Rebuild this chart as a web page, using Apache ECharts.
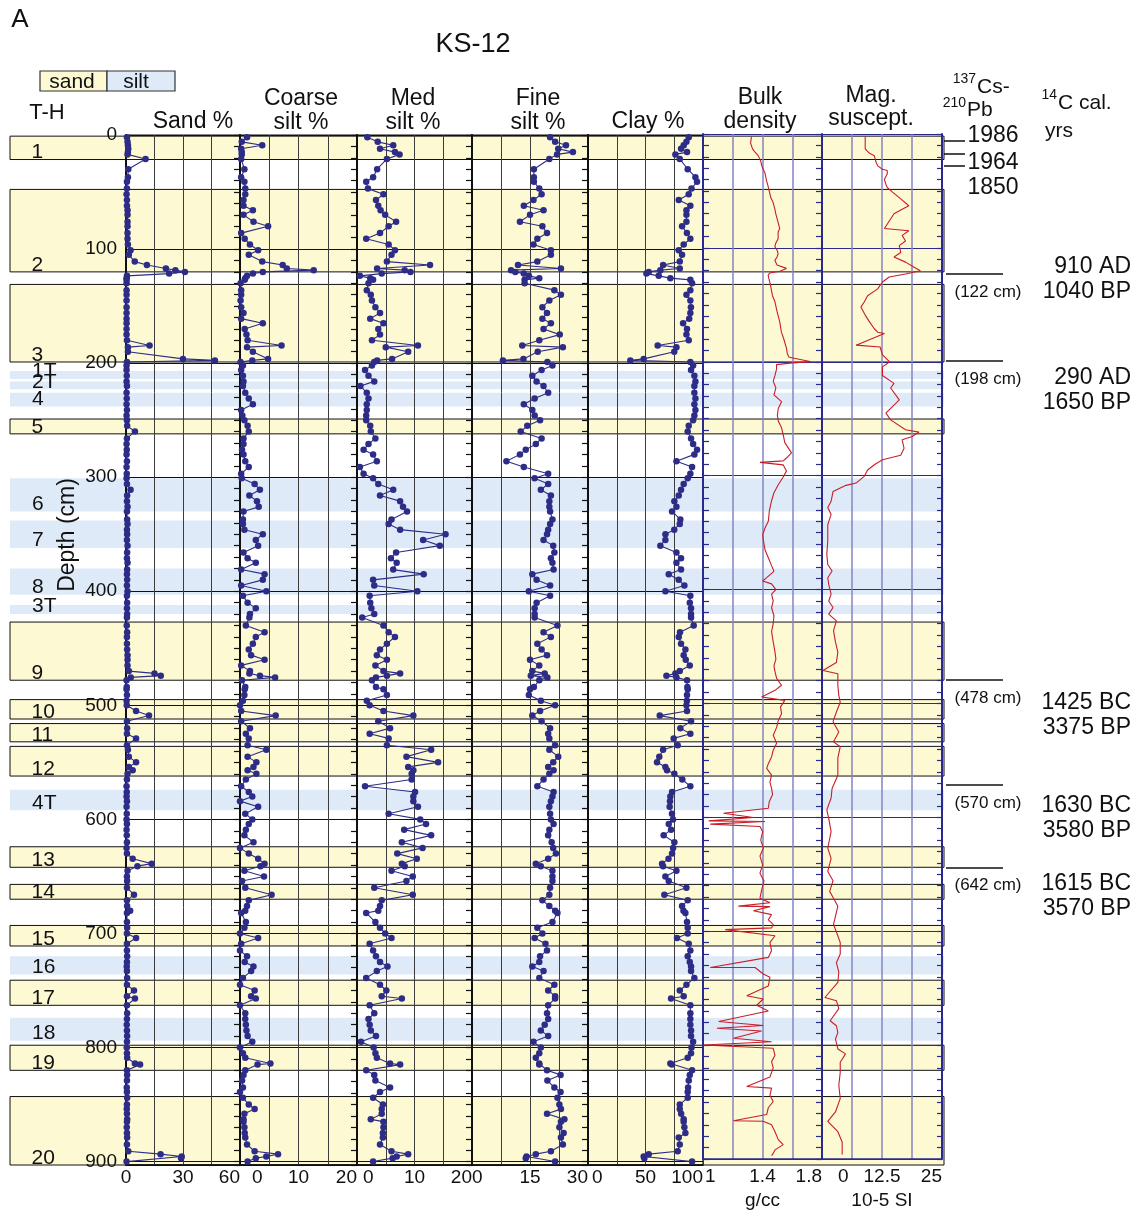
<!DOCTYPE html>
<html>
<head>
<meta charset="utf-8">
<title>KS-12</title>
<script src="https://cdn.jsdelivr.net/npm/echarts@6.0.0/dist/echarts.min.js"></script>
<style>
  html, body { margin: 0; padding: 0; background: #ffffff; }
  #chart { width: 1136px; height: 1211px; }
</style>
</head>
<body>
<div id="chart"></div>
<script>
// ---------------- Lithologic units (T-H), depths in cm ----------------
const unitNames  = ['1', '2', '3', '1T', '2T', '4', '5', '6', '7', '8', '3T', '9', '10', '11', '12', '4T', '13', '14', '15', '16', '17', '18', '19', '20'];
const unitTop    = [1, 47.7, 131, 207, 216, 226, 249, 301, 338, 380, 412, 427, 495, 516, 536, 574, 624, 657, 693, 720, 741, 774, 798, 843];
const unitBottom = [21.5, 120, 199, 214, 223, 238, 262, 330, 362, 403, 420, 478, 512, 532, 562, 592, 642, 670, 711, 736, 763, 794, 820, 903];
const unitType   = ['sand', 'sand', 'sand', 'silt', 'silt', 'silt', 'sand', 'silt', 'silt', 'silt', 'silt', 'sand', 'sand', 'sand', 'sand', 'silt', 'sand', 'sand', 'sand', 'silt', 'sand', 'silt', 'sand', 'sand'];

// ---------------- Grain-size samples ----------------
const sampleDepth = [
  2, 6, 9, 12, 15, 17, 21, 30, 37, 41, 47, 52, 57, 62, 66, 70, 76, 80, 86, 91,
  96, 101, 105, 111, 114, 117, 118.5, 120, 121.5, 123.5, 125.5, 127, 130, 136, 140, 145, 151, 156, 161, 165,
  170, 175, 180, 184.5, 186, 190, 196.3, 197.6, 199, 202,
  206, 211, 216, 220, 226, 231, 236, 241, 246, 250, 255, 260, 266, 271, 276, 280, 286, 291, 297, 301,
  306, 311, 316, 321, 326, 330, 337, 341, 346, 350, 355, 360, 366, 371, 375, 381, 385, 390, 395, 400,
  404, 410, 415, 420, 423, 430, 436,
  440, 446, 451, 456, 460, 465, 470, 472, 474, 475.5, 478, 484, 486, 491, 496, 500, 505, 509, 514, 520,
  525, 529, 535, 539, 545, 550, 554, 557, 560, 565, 571, 576, 580, 584, 589, 595, 600, 604, 609, 614,
  620, 625, 630, 634.5, 638.8, 641, 645, 650, 654, 660, 666, 671, 676, 680, 682, 690, 695, 700, 704, 709,
  715, 720, 725, 729, 733, 739, 745, 750, 755, 757, 763, 770, 775, 780, 785, 790, 795, 800, 805, 809,
  814, 815, 820, 824, 829, 835, 839, 844, 850, 854, 858, 863, 865, 870, 875, 879, 885, 891, 893.5, 895.5,
  897, 900
];
const sandPct = [
  0.5, 0.8, 1, 1.2, 1, 0.8, 10.3, 1.2, 1, 0.5, 0.5, 0.3, 0.5, 0.5, 0.8, 0.8, 0.8, 0.8, 0.8, 0.8,
  1, 2.4, 1.5, 4.6, 11, 21, 26, 31, 22.7, 0.5, 0.3, 0.3, 0.3, 0.3, 0.3, 0.3, 0.3, 0.3, 0.3, 0.3,
  0.3, 0.3, 0.5, 12.4, 1.0, 1.0, 30, 46.8, 0.5, 0.3,
  0.3, 0.4, 0.3, 0.5, 0.3, 0.4, 0.3, 0.5, 0.3, 0.5, 0.6, 4.7, 0.5, 0.3, 0.4, 0.3, 0.5, 0.3, 0.4, 0.3,
  0.5, 2.4, 0.6, 0.5, 0.8, 0.5, 0.6, 0.8, 0.5, 0.6, 0.5, 0.8, 0.6, 0.5, 0.8, 0.6, 0.5, 0.6, 0.5, 0.8,
  0.5, 0.6, 0.5, 0.6, 0.5, 0.4, 0.6,
  0.5, 0.5, 0.6, 0.8, 0.8, 0.8, 1.5, 15, 18.3, 2.5, 0.3, 0.4, 0.3, 0.5, 0.3, 0.4, 5.3, 12.1, 0.5, 0.6,
  0.5, 5.3, 0.5, 1.0, 1.5, 5.3, 1.5, 3.5, 0.8, 0.5, 0.3, 0.4, 0.3, 0.5, 0.3, 0.4, 0.3, 0.5, 0.3, 0.4,
  0.5, 0.3, 0.5, 3.5, 13.5, 6.0, 0.8, 0.5, 0.6, 0.5, 4.2, 0.5, 0.6, 2.2, 0.5, 0.5, 0.6, 0.5, 5.3, 0.5,
  0.5, 0.6, 0.5, 0.4, 0.5, 0.6, 0.5, 4.2, 0.5, 4.7, 0.5, 0.6, 0.5, 0.4, 0.5, 0.6, 0.5, 0.4, 0.5, 0.6,
  4.7, 7.4, 0.5, 0.6, 0.5, 0.4, 0.5, 0.6, 0.5, 0.4, 0.5, 0.6, 0.5, 0.4, 0.5, 0.6, 0.5, 1.2, 18.2, 29.3,
  29, 0.3
];
const coarseSiltPct = [
  1.2, 0.3, 3.8, 0.2, 0.3, 0.3, 0.2, 0.75, 0.2, 0.75, 0.9, 0.9, 0.6, 0.6, 2.2, 0.6, 2.3, 4.8, 0.2, 0.8,
  1.7, 3.1, 1.5, 3.8, 7.3, 8.0, 12.6, 3.9, 2.2, 1.2, 0.9, 0.8, 0.1, 0.2, 0.2, 0.1, 0.2, 0.6, 0.2, 3.9,
  0.8, 1.1, 1.3, 7.1, 1.2, 2.2, 4.8, 2.1, 0.1, 0.5,
  0.2, 0.5, 0.6, 0.5, 0.9, 1.5, 2.2, 0.2, 0.4, 0.75, 1.3, 1.5, 0.6, 0.6, 0.35, 0.6, 0.9, 1.5, 0.2, 0.3,
  2.5, 3.4, 1.6, 2.9, 3.2, 0.6, 0.5, 0.5, 0.75, 3.9, 2.7, 3.1, 0.6, 1.3, 2.7, 0.2, 4.2, 3.9, 0.2, 4.5,
  0.5, 1.3, 2.7, 1.7, 1.6, 1.0, 4.2,
  2.7, 2.2, 1.5, 1.9, 4.2, 0.2, 1.7, 1.6, 3.4, 6.0, 0.35, 0.9, 0.8, 0.75, 0.5, 0, 0.2, 6.1, 0.2, 1.7,
  1.0, 1.5, 1.3, 4.5, 1.3, 2.8, 2.3, 1.3, 2.8, 1.0, 0.2, 1.5, 2.1, 0, 3.1, 0.9, 2.1, 1.5, 1.0, 0.75,
  2.3, 0, 1.5, 3.1, 4.2, 3.5, 0.75, 4.1, 0.35, 0.9, 5.4, 1.5, 1.2, 0.9, 0.2, 1.0, 0.75, 0, 3.1, 0.2,
  0, 1.2, 0.8, 2.3, 1.9, 0.5, 0, 2.5, 1.9, 2.7, 0, 0.9, 0.9, 1.0, 1.1, 1.3, 2.1, 0, 0.5, 0.9,
  5.2, 3.0, 0.9, 0.6, 0.35, 0.5, 0, 0.5, 1.5, 2.5, 0.75, 0.6, 0.6, 0.75, 0.8, 0.9, 1.2, 2.5, 6.5, 4.5,
  2.7, 1.3
];
const medSiltPct = [
  1.8, 3.6, 6.3, 4.0, 6.6, 7.4, 5.2, 3.5, 2.8, 1.6, 1.9, 4.6, 3.3, 3.7, 4.1, 4.9, 6.8, 5.5, 4.0, 1.6,
  5.5, 6.6, 6.0, 5.2, 12.7, 3.5, 8.3, 9.3, 4.3, 0.5, 2.3, 2.8, 2.0, 1.7, 2.4, 2.6, 3.2, 4.0, 2.3, 4.6,
  3.7, 4.0, 2.6, 10.6, 5.0, 8.9, 6.1, 3.5, 3.0, 2.6,
  1.4, 2.0, 3.0, 0.6, 1.7, 2.0, 1.7, 1.7, 1.6, 1.6, 2.3, 2.4, 3.2, 2.0, 1.15, 2.8, 3.45, 0.5, 1.15, 2.8,
  3.7, 6.3, 4.0, 7.5, 8.0, 8.7, 6.0, 5.5, 7.5, 15.4, 11.5, 14.4, 6.8, 5.9, 6.9, 6.3, 11.6, 2.8, 3.0, 10.5,
  2.2, 2.3, 2.5, 3.0, 0.9, 4.6, 5.5,
  6.6, 5.2, 4.0, 3.45, 5.2, 3.2, 4.6, 7.5, 5.2, 3.3, 2.6, 3.3, 4.6, 5.2, 1.7, 2.2, 4.6, 9.8, 3.7, 5.75,
  2.2, 5.5, 5.2, 12.9, 8.6, 14.1, 8.9, 9.8, 9.5, 9.5, 1.4, 10.1, 9.8, 9.8, 10.6, 5.5, 11.0, 12.0, 8.2, 12.9,
  7.8, 11.4, 7.0, 10.4, 7.8, 8.3, 6.0, 9.7, 8.6, 3.0, 9.7, 4.3, 4.0, 3.7, 1.6, 3.2, 4.0, 4.9, 6.0, 2.2,
  2.8, 3.3, 4.0, 5.3, 3.45, 1.6, 4.0, 5.1, 4.3, 7.8, 2.2, 3.0, 2.0, 2.2, 2.4, 3.3, 0.7, 2.9, 3.2, 3.45,
  5.75, 7.5, 1.6, 3.0, 3.2, 5.75, 4.0, 2.8, 4.5, 4.3, 4.3, 2.4, 4.6, 4.6, 4.5, 4.5, 4.0, 6.0, 8.9, 6.9,
  6.2, 2.8
];
const fineSiltPct = [
  20.2, 21.5, 24.3, 22.3, 26.1, 22, 20, 16, 16, 16, 17.4, 18, 15.9, 13.4, 18.5, 15, 12.4, 18.2, 19.4, 16.9,
  15.9, 20.4, 20.4, 16.9, 11.9, 23, 10.1, 11.2, 13.4, 14.7, 17.4, 13.6, 13.6, 21.3, 23, 20, 18.2, 19.4, 18.2, 20.4,
  18.5, 22.7, 17.4, 13.0, 23.5, 17, 13.3, 8, 19.5, 20.8,
  18.0, 15.6, 16.7, 18.5, 19.7, 16.2, 13.4, 15.6, 16.2, 17.6, 14.3, 12.6, 18.0, 16.5, 13.9, 12.4, 8.9, 13.4, 19.7, 16.2,
  19.7, 17.8, 20.4, 20.0, 20.0, 20.2, 20.8, 20.2, 19.7, 19.4, 18.5, 21.0, 21.3, 20.4, 20.8, 21.1, 15.6, 16.7, 20.2, 14.7,
  20.2, 16.7, 16.2, 16.2, 16.2, 22.1, 18.5,
  20.4, 16.9, 18.0, 19.4, 15.0, 17.4, 15.6, 18.8, 15.2, 19.5, 17.4, 16.0, 15.0, 14.7, 17.8, 21.5, 17.6, 15.6, 18.0, 20.2,
  19.7, 20.0, 21.5, 20.0, 22.3, 21.0, 19.7, 21.1, 20.0, 18.5, 16.9, 21.1, 20.8, 20.4, 20.0, 20.2, 20.4, 21.1, 20.0, 19.7,
  20.6, 21.0, 21.7, 19.7, 16.5, 17.8, 20.8, 20.8, 20.8, 20.2, 20.0, 18.2, 20.0, 21.5, 22.1, 20.8, 16.9, 18.2, 16.2, 19.0,
  19.4, 17.6, 17.4, 15.6, 18.5, 17.4, 21.3, 19.7, 21.5, 21.5, 19.7, 19.4, 19.7, 18.8, 17.8, 19.7, 15.9, 17.8, 17.4, 16.5,
  17.4, 17.4, 19.4, 22.9, 19.5, 21.3, 22.9, 22.1, 22.6, 23.0, 19.4, 23.9, 23.0, 22.6, 23.7, 23.0, 23.5, 20.4, 16.5, 14.1,
  13.9, 21.5
];
const clayPct = [
  87.6, 85.6, 83.2, 80.9, 86.1, 76, 79.8, 86.7, 93.4, 94.8, 90, 87.6, 78.9, 89, 85.6, 85.6, 85.6, 81.8, 86, 89,
  83.2, 78.9, 81.8, 79.8, 65.3, 79.8, 62.9, 52.8, 50.8, 61.5, 71.6, 89, 90.5, 89, 85.6, 89, 89.5, 89, 88, 82.7,
  86.1, 85.6, 87.6, 60.6, 76.9, 75, 48.4, 36.8, 89, 91.4,
  89.6, 92.5, 93.4, 92.5, 92.5, 93.4, 92.5, 93.4, 92.5, 91.4, 87.6, 86.7, 89.6, 91.4, 94.8, 92.5, 76.9, 90.5, 89, 86.7,
  83.2, 80.9, 78.9, 75.1, 76.9, 73.1, 80.3, 79.8, 75, 67.3, 67.3, 62.9, 76.9, 80.9, 76.9, 80.9, 70.2, 78.9, 83.8, 67.3,
  89, 88.5, 89.6, 89.6, 89.6, 91.9, 80,
  78.9, 80.9, 84.7, 83.2, 85, 88.5, 79.8, 76, 68.2, 76.9, 86.1, 86.4, 86.7, 86.1, 86, 85.6, 86.1, 62.4, 89.6, 80.3,
  89, 74.5, 78, 65.3, 62, 60, 67.3, 68.7, 75.1, 82, 89, 73.1, 71.6, 71.3, 71, 73, 73.9, 70.2, 72.2, 65.8,
  75.1, 74, 73.1, 70, 64.4, 65.3, 76.9, 67.3, 70.2, 85.6, 66.4, 86.7, 81.8, 83, 84.7, 86.1, 86.7, 86.7, 77.4, 87.6,
  89, 86.7, 88.5, 89.6, 89.6, 92.5, 85.6, 79.8, 83.2, 72.2, 89, 89, 89, 89, 89.6, 89.6, 91.4, 90, 89.6, 86.7,
  71.6, 73, 90.5, 88.5, 87.6, 87, 86.7, 86.7, 79.8, 79.8, 81, 83.2, 83.2, 83.8, 84.7, 78.9, 79.8, 78, 52.8, 48.4,
  49, 90.5
];

// ---------------- Continuous logs ----------------
const bulkDepth = [
  2, 8, 13, 16, 19, 24, 27, 31, 34, 41, 46, 50, 56, 60, 66, 70, 83, 86, 92, 96,
  99, 102, 105, 108, 111, 115, 118, 120.5, 122, 124, 127, 133, 142, 147, 156, 165, 174, 180, 188, 193,
  196, 200, 201, 202.5,
  206, 212, 217, 223, 229, 235, 241, 247, 252, 258, 264, 271, 280, 284.5, 287, 288.3, 290.5, 296, 302, 308,
  315, 322, 331, 340, 346, 352, 357, 365, 372, 379, 384, 389.5, 392.5, 395, 400, 404, 410, 416, 423, 430,
  437, 446, 455, 461, 467, 472, 478, 484, 488.5, 494.4, 497.3, 503, 509, 515, 521, 528, 535, 541, 547, 553,
  557, 563, 569, 574.5, 580, 586, 592, 596.4, 600.2, 603.1, 603.7, 606, 608, 612.5, 620, 627, 634, 642, 649, 656,
  664, 671,
  675, 678, 678.4, 682, 685.4, 690, 694, 697.1, 698.6, 704, 710, 717, 723, 731.8, 731.9, 737.6, 740.5, 748, 756.6, 759.5,
  765, 770, 779.3, 782.8, 785.2, 787.6, 794, 797, 799.9, 802.8, 809, 814.5, 820, 828, 836.3, 837.8, 844, 849.5, 855, 861,
  866.4, 866.8, 870, 876, 883, 887.4, 892, 895, 897
];
const bulkDensity = [
  1.326, 1.32, 1.333, 1.35, 1.371, 1.389, 1.393, 1.404, 1.416, 1.427, 1.438, 1.445, 1.456, 1.471, 1.483, 1.489, 1.516, 1.505, 1.505, 1.489,
  1.483, 1.498, 1.505, 1.498, 1.483, 1.498, 1.561, 1.516, 1.449, 1.438, 1.443, 1.454, 1.467, 1.483, 1.498, 1.516, 1.527, 1.543, 1.561, 1.567,
  1.579, 1.728, 1.6, 1.494,
  1.495, 1.484, 1.472, 1.49, 1.477, 1.528, 1.506, 1.5, 1.506, 1.528, 1.539, 1.55, 1.595, 1.561, 1.539, 1.383, 1.539, 1.561, 1.535, 1.506,
  1.477, 1.461, 1.446, 1.439, 1.417, 1.401, 1.406, 1.417, 1.439, 1.461, 1.477, 1.428, 1.401, 1.461, 1.49, 1.461, 1.472, 1.461, 1.477, 1.472,
  1.461, 1.472, 1.484, 1.49, 1.477, 1.484, 1.495, 1.528, 1.484, 1.394, 1.55, 1.521, 1.528, 1.506, 1.495, 1.472, 1.495, 1.472, 1.461, 1.439,
  1.428, 1.461, 1.45, 1.461, 1.468, 1.446, 1.439, 1.138, 1.339, 1.038, 1.417, 1.049, 1.383, 1.401, 1.388, 1.406, 1.383, 1.401, 1.383, 1.41,
  1.394, 1.383,
  1.45, 1.238, 1.45, 1.339, 1.461, 1.439, 1.472, 1.461, 1.149, 1.484, 1.45, 1.461, 1.439, 1.049, 1.35, 1.405, 1.45, 1.439, 1.294, 1.405,
  1.361, 1.439, 1.105, 1.405, 1.094, 1.394, 1.205, 1.461, 1.004, 1.472, 1.484, 1.461, 1.472, 1.45, 1.294, 1.461, 1.45, 1.472, 1.439, 1.428,
  1.205, 1.405, 1.461, 1.484, 1.506, 1.539, 1.484, 1.472, 1.461
];
const magDepth = [
  2, 13, 17, 19, 24, 28, 31, 32, 35, 40, 44, 47, 51, 57, 63, 66, 70, 83, 85, 89,
  94, 98, 104, 108, 112.5, 117, 120, 123, 125.6, 130, 136, 142, 147.5, 152, 159, 165, 171, 174, 175.2, 185.4,
  187, 194, 200, 204.5,
  206, 212, 219, 223, 233.5, 238, 245, 251, 259.7, 261.8, 265.6, 268.5, 276, 282, 286, 290.4, 295, 300.6, 306.5, 308.5,
  313.8, 322.5, 328, 334, 343, 357.5, 369, 378, 383.7, 389.6, 395.4, 404, 410, 415.8, 421.6, 427.5, 436,
  446, 455, 464, 471, 474, 484, 493, 499, 507.5, 516, 525, 533.7, 538, 548, 563, 574.6, 583, 593.5, 601, 612.5,
  627, 636, 647.5, 655.6, 665, 671,
  678, 687, 694, 704, 710, 720, 727.6, 736, 745, 758.2, 761, 768, 778.6, 783, 789, 794.6, 803.4, 807.7, 815, 824,
  835, 847, 858.7, 866.9, 876, 885, 896
];
const magSus = [
  9.0, 9.0, 9.9, 10.9, 11.2, 11.6, 12.6, 13.6, 13.6, 13.0, 13.3, 13.6, 14.7, 16.4, 18.1, 16.7, 15.0, 13.0, 18.1, 16.7,
  17.4, 16.1, 16.4, 15.0, 17.4, 19.2, 20.5, 17.4, 14.0, 12.6, 11.6, 9.5, 8.8, 8.1, 9.0, 9.9, 10.9, 11.6, 13.0, 7.1,
  12.1, 12.6, 14.1, 12.6,
  12.3, 12.6, 15.0, 14.3, 16.1, 15.0, 13.3, 14.3, 17.4, 20.2, 18.8, 16.7, 17.1, 16.4, 12.6, 10.9, 9.5, 8.8, 7.1, 5.0,
  2.3, 1.9, 1.2, 1.9, 1.2, 1.2, 1.0, 1.2, 2.1, 1.2, 1.4, 1.9, 1.4, 2.3, 1.4, 3.0, 2.4,
  2.8, 3.3, 3.0, 0.2, 3.3, 3.3, 3.5, 3.8, 3.0, 2.3, 3.5, 2.4, 3.8, 3.3, 3.3, 2.1, 1.9, 1.0, 1.4, 1.9,
  1.2, 1.9, 1.2, 2.3, 1.6, 2.4,
  3.3, 2.8, 2.4, 3.3, 3.8, 3.8, 3.0, 3.5, 3.3, 0.6, 3.0, 3.5, 1.7, 3.0, 3.3, 2.8, 3.3, 4.9, 3.8, 3.8,
  3.5, 3.8, 2.8, 1.2, 3.3, 4.2, 4.2
];

// ---------------- Axis tick labels ----------------
const sandTicks = [0, 30, 60];
const coarseTicks = [0, 10, 20];
const medTicks = [0, 10, 20];
const fineTicks = [0, 15, 30];
const clayTicks = [0, 50, 100];
const bulkTicks = [1, 1.4, 1.8];
const magTicks = [0, 12.5, 25];

// ---------------- Age control ----------------
const csPbYears = ['1986', '1964', '1850'];
const csPbLabelDepth = [1, 24, 46];
const csPbMarkDepth = [5, 16, 27];
const c14Depth = [122, 198, 478, 570, 642];
const c14Cal = ['910 AD', '290 AD', '1425 BC', '1630 BC', '1615 BC'];
const c14BP = ['1040 BP', '1650 BP', '3375 BP', '3580 BP', '3570 BP'];

// ---------------- Styling / layout ----------------
const FONT = '"Liberation Sans", Arial, Helvetica, sans-serif';
const INK = '#111111';
const GRID_INK = '#3c3c3c';
const NAVY = '#2a2a8e';
const NAVY_LIGHT = '#8484c2';
const DOT = '#2d2d87';
const RED = '#c81e28';
const SAND_FILL = '#fdf9d3';
const SILT_FILL = '#dfeaf9';
const FRONT = 1;   // canvas layer for panels, axes and texts (unit bands sit below)

const TOP = 135, HEIGHT = 1030, DEPTH_MAX = 903;
const LOG_TOP = 134, LOG_HEIGHT = 1025, LOG_DEPTH_MAX = 900;

// Bottom-axis labels: only the listed values are written; the first one can be nudged right
function tickLabel(list, min, lead) {
  return {
    formatter: v => {
      const hit = list.find(t => Math.abs(t - v) < 1e-6);
      if (hit === undefined) return '';
      return Math.abs(v - min) < 1e-6 ? '{lead|' + hit + '}' : String(hit);
    },
    rich: { lead: { padding: [0, 0, 0, lead], fontSize: 19, fontFamily: FONT, color: INK } }
  };
}

const chart = echarts.init(document.getElementById('chart'));
const grids = [], xAxes = [], yAxes = [], series = [];

// every grid keeps exactly the box it is given
function addGrid(g) { grids.push(Object.assign({ zlevel: FRONT, outerBoundsMode: 'none', containLabel: false }, g)); return grids.length - 1; }
function addX(a) { return xAxes.push(Object.assign({ zlevel: FRONT }, a)) - 1; }
function addY(a) { return yAxes.push(Object.assign({ zlevel: FRONT }, a)) - 1; }

// Background: lithologic unit bands spanning every panel
(function () {
  const gi = addGrid({ left: 10, top: TOP, width: 934, height: HEIGHT, show: false });
  const xi = addX({ gridIndex: gi, type: 'value', min: 0, max: 1, show: false });
  const yi = addY({ gridIndex: gi, type: 'value', min: 0, max: DEPTH_MAX, inverse: true, show: false });
  series.push({
    type: 'line', xAxisIndex: xi, yAxisIndex: yi, zlevel: 0, silent: true,
    data: [[0, 0]], showSymbol: false, lineStyle: { opacity: 0 },
    markArea: {
      silent: true,
      data: unitNames.map((n, i) => [
        {
          name: n, xAxis: 0, yAxis: unitTop[i],
          itemStyle: unitType[i] === 'sand'
            ? { color: SAND_FILL, borderColor: INK, borderWidth: 1 }
            : { color: SILT_FILL, borderWidth: 0 },
          label: {
            show: true, position: 'insideBottomLeft', distance: 5, offset: [17, 8],
            color: INK, fontSize: 21, fontFamily: FONT
          }
        },
        { xAxis: 1, yAxis: unitBottom[i] }
      ])
    }
  });
})();

// Grain-size panels
const grainPanels = [
  { left: 126, width: 114, max: 60,  step: 15,  ticks: sandTicks,   values: sandPct,       minAlign: 'center', lead: 0 },
  { left: 240, width: 117, max: 20,  step: 5,   ticks: coarseTicks, values: coarseSiltPct, minAlign: 'left',   lead: 12 },
  { left: 357, width: 115, max: 20,  step: 5,   ticks: medTicks,    values: medSiltPct,    minAlign: 'left',   lead: 6 },
  { left: 472, width: 116, max: 30,  step: 7.5, ticks: fineTicks,   values: fineSiltPct,   minAlign: 'left',   lead: 0 },
  { left: 588, width: 115, max: 100, step: 25,  ticks: clayTicks,   values: clayPct,       minAlign: 'left',   lead: 4 }
];

grainPanels.forEach((p, k) => {
  const gi = addGrid({ left: p.left, top: TOP, width: p.width, height: HEIGHT, show: true, borderColor: INK, borderWidth: 1.2 });
  const xi = addX({
    gridIndex: gi, type: 'value', min: 0, max: p.max, interval: p.step, position: 'bottom',
    axisLine: { show: true, onZero: false, lineStyle: { color: INK, width: 1.5 } },
    axisTick: { show: false },
    axisLabel: Object.assign({
      fontSize: 19, fontFamily: FONT, color: INK, margin: 3,
      alignMinLabel: p.minAlign, alignMaxLabel: 'right'
    }, tickLabel(p.ticks, 0, p.lead)),
    splitLine: { show: true, lineStyle: { color: GRID_INK, width: 1 } }
  });
  const yi = addY({
    gridIndex: gi, type: 'value', min: 0, max: DEPTH_MAX, interval: 100, inverse: true,
    axisLine: { show: true, onZero: false, lineStyle: { color: INK, width: 2 } },
    axisTick: { show: k > 0, length: 6, lineStyle: { color: INK, width: 1.2 } },
    minorTick: { show: k > 0, splitNumber: 10, length: 6, lineStyle: { color: INK, width: 1.2 } },
    axisLabel: k === 0
      ? { show: true, formatter: v => (v % 100 === 0 ? String(v) : ''), fontSize: 19, fontFamily: FONT, color: INK, margin: 9, padding: [0, 0, 8, 0] }
      : { show: false },
    splitLine: { show: true, lineStyle: { color: INK, width: 1 } }
  });
  series.push({
    type: 'line', xAxisIndex: xi, yAxisIndex: yi, zlevel: FRONT, z: 3, silent: true,
    data: sampleDepth.map((d, i) => [p.values[i], d]),
    symbol: 'circle', symbolSize: 6.5, showSymbol: true,
    itemStyle: { color: DOT },
    lineStyle: { color: DOT, width: 1.1 }
  });
});

// Log panels (bulk density, magnetic susceptibility)
function logPanel(left, width, min, max, step, ticks, lead, name, depth, values, rightAxis) {
  const gi = addGrid({ left, top: LOG_TOP, width, height: LOG_HEIGHT, show: false });
  const xi = addX({
    gridIndex: gi, type: 'value', min, max, interval: step, position: 'bottom',
    axisLine: { show: true, onZero: false, lineStyle: { color: NAVY, width: 1.5 } },
    axisTick: { show: false },
    axisLabel: Object.assign({
      fontSize: 19, fontFamily: FONT, color: INK, margin: 8,
      alignMinLabel: 'left', alignMaxLabel: 'right'
    }, tickLabel(ticks, min, lead)),
    splitLine: { show: true, lineStyle: { color: NAVY_LIGHT, width: 1.5 } },
    name, nameLocation: 'middle', nameGap: 31,
    nameTextStyle: { fontSize: 19, fontFamily: FONT, color: INK }
  });
  const yi = addY({
    gridIndex: gi, type: 'value', min: 0, max: LOG_DEPTH_MAX, interval: 100, inverse: true, position: 'left',
    axisLine: { show: true, onZero: false, lineStyle: { color: NAVY, width: 2 } },
    axisTick: { show: true, inside: !rightAxis, length: 6, lineStyle: { color: NAVY, width: 1.2 } },
    minorTick: { show: true, splitNumber: 10, length: 6, lineStyle: { color: NAVY, width: 1.2 } },
    axisLabel: { show: false },
    splitLine: { show: true, lineStyle: { color: NAVY, width: 1.2 } }
  });
  if (rightAxis) {
    addY({
      gridIndex: gi, type: 'value', min: 0, max: LOG_DEPTH_MAX, interval: 100, inverse: true, position: 'right',
      axisLine: { show: true, onZero: false, lineStyle: { color: NAVY, width: 2 } },
      axisTick: { show: true, inside: true, length: 5, lineStyle: { color: NAVY, width: 1.2 } },
      minorTick: { show: true, splitNumber: 10, length: 5, lineStyle: { color: NAVY, width: 1.2 } },
      axisLabel: { show: false },
      splitLine: { show: false }
    });
  }
  series.push({
    type: 'line', xAxisIndex: xi, yAxisIndex: yi, zlevel: FRONT, z: 3, silent: true,
    data: depth.map((d, i) => [values[i], d]),
    showSymbol: false, lineStyle: { color: RED, width: 1.1 }
  });
}
logPanel(703, 119, 1, 1.8, 0.2, bulkTicks, 2, 'g/cc', bulkDepth, bulkDensity, false);
logPanel(822, 120, 0, 25, 6.25, magTicks, 16, '10-5 SI', magDepth, magSus, true);

// Age-control tie lines
function tieLines(left, width, depths) {
  const gi = addGrid({ left, top: TOP, width, height: HEIGHT, show: false });
  const xi = addX({ gridIndex: gi, type: 'value', min: 0, max: 1, show: false });
  const yi = addY({ gridIndex: gi, type: 'value', min: 0, max: DEPTH_MAX, inverse: true, show: false });
  series.push({
    type: 'line', xAxisIndex: xi, yAxisIndex: yi, zlevel: FRONT, silent: true,
    data: [[0, 0]], showSymbol: false, lineStyle: { opacity: 0 },
    markLine: {
      silent: true, symbol: ['none', 'none'], animation: false,
      label: { show: false },
      lineStyle: { color: INK, width: 1.5, type: 'solid' },
      data: depths.map(d => ({ yAxis: d }))
    }
  });
  return gi;
}
const c14Grid = tieLines(946, 57, c14Depth);
tieLines(944, 21, csPbMarkDepth);

chart.setOption({
  animation: false,
  backgroundColor: '#ffffff',
  grid: grids,
  xAxis: xAxes,
  yAxis: yAxes,
  series
});

// ---------------- Text annotations ----------------
function txt(text, x, y, size, align, extra) {
  return Object.assign({
    type: 'text', x, y, silent: true, zlevel: FRONT, z: 10,
    style: { text, fontSize: size, fontFamily: FONT, fill: INK, align: align || 'center', verticalAlign: 'middle' }
  }, extra || {});
}
const yAt = d => chart.convertToPixel({ gridIndex: c14Grid }, [0, d])[1];

const graphics = [
  txt('A', 20, 20, 26),
  txt('KS-12', 473, 45, 27),
  // legend
  { type: 'rect', silent: true, zlevel: FRONT, shape: { x: 40, y: 71, width: 67, height: 20 }, style: { fill: SAND_FILL, stroke: '#333', lineWidth: 1.2 } },
  { type: 'rect', silent: true, zlevel: FRONT, shape: { x: 107, y: 71, width: 68, height: 20 }, style: { fill: SILT_FILL, stroke: '#333', lineWidth: 1.2 } },
  txt('sand', 72, 82, 21),
  txt('silt', 136, 82, 21),
  txt('T-H', 47, 113, 22),
  txt('Depth (cm)', 68, 535, 23, 'center', { rotation: Math.PI / 2 }),
  // panel titles
  txt('Sand %', 193, 122, 23),
  txt('Coarse', 301, 99, 23), txt('silt %', 301, 123, 23),
  txt('Med', 413, 99, 23), txt('silt %', 413, 123, 23),
  txt('Fine', 538, 99, 23), txt('silt %', 538, 123, 23),
  txt('Clay %', 648, 122, 23),
  txt('Bulk', 760, 98, 23), txt('density', 760, 122, 23),
  txt('Mag.', 871, 96, 23), txt('suscept.', 871, 119, 23),
  // age-control headers
  txt('137', 976, 79, 14, 'right'), txt('Cs-', 977, 87, 21, 'left'),
  txt('210', 966, 103, 14, 'right'), txt('Pb', 967, 110, 21, 'left'),
  txt('14', 1057, 95, 14, 'right'), txt('C cal.', 1058, 103, 21, 'left'),
  txt('yrs', 1045, 131, 21, 'left')
];

csPbYears.forEach((yr, i) => graphics.push(txt(yr, 993, yAt(csPbLabelDepth[i]), 23)));

const calShift = [-8, 17, 22, 20, 16];
c14Depth.forEach((d, i) => {
  const y = yAt(d);
  graphics.push(txt('(' + d + ' cm)', 988, y + 18, 17));
  graphics.push(txt(c14Cal[i], 1131, y + calShift[i], 23, 'right'));
  graphics.push(txt(c14BP[i], 1131, y + calShift[i] + 25, 23, 'right'));
});

chart.setOption({ graphic: graphics });
</script>
</body>
</html>
